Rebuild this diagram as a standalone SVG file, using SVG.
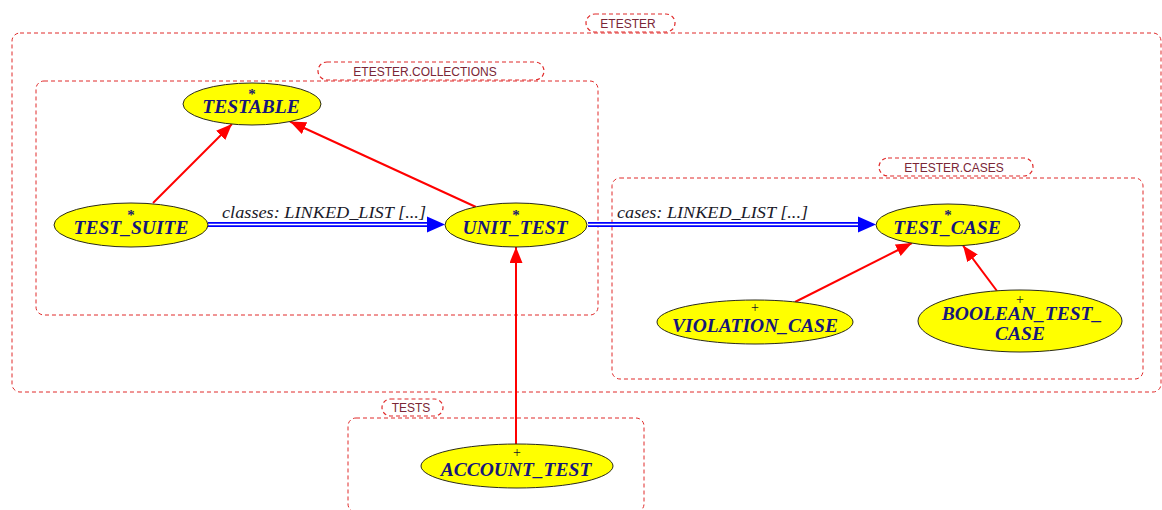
<svg xmlns="http://www.w3.org/2000/svg" width="1162" height="510" viewBox="0 0 1162 510">
  <style>
    .cluster { fill: none; stroke: #e02a2a; stroke-width: 1; stroke-dasharray: 4 3; }
    .clabel-box { fill: #ffffff; stroke: #e02a2a; stroke-width: 1.2; stroke-dasharray: 4 3; }
    .clabel { font-family: "Liberation Sans", Arial, sans-serif; font-size: 12px; fill: #7a2636; text-anchor: middle; }
    .node ellipse { fill: #ffff00; stroke: #2a2a1a; stroke-width: 1; }
    .name { font-family: "Liberation Serif", "Times New Roman", serif; font-size: 19.5px; font-weight: bold; font-style: italic; fill: #16167a; text-anchor: middle; }
    .star { font-family: "Liberation Serif", "Times New Roman", serif; font-size: 15px; font-weight: bold; fill: #1a1a70; text-anchor: middle; }
    .plus { font-family: "Liberation Serif", "Times New Roman", serif; font-size: 14px; fill: #10102a; text-anchor: middle; }
    .inherit { fill: none; stroke: #ff0000; stroke-width: 2; marker-end: url(#redHead); }
    .client-outer { fill: none; stroke: #0000ff; stroke-width: 5; }
    .client-inner { fill: none; stroke: #ffffff; stroke-width: 1.6; }
    .elabel { font-family: "Liberation Serif", "Times New Roman", serif; font-size: 16px; font-style: italic; fill: #1a1a2a; }
  </style>
  <defs>
    <marker id="redHead" markerUnits="userSpaceOnUse" markerWidth="17" markerHeight="13" refX="16" refY="6.5" orient="auto">
      <path d="M0,0 L16,6.5 L0,13 z" fill="#ff0000"/>
    </marker>
  </defs>

  <!-- clusters -->
  <g id="cluster-etester">
    <rect class="cluster" x="12" y="33" width="1149" height="359" rx="8"/>
    <rect class="clabel-box" x="586" y="14" width="89" height="18" rx="9"/>
    <text class="clabel" x="628" y="28">ETESTER</text>
  </g>
  <g id="cluster-collections">
    <rect class="cluster" x="36" y="81" width="562" height="234" rx="8"/>
    <rect class="clabel-box" x="318" y="62" width="226" height="18" rx="9"/>
    <text class="clabel" x="425" y="76">ETESTER.COLLECTIONS</text>
  </g>
  <g id="cluster-cases">
    <rect class="cluster" x="612" y="178" width="531" height="201" rx="8"/>
    <rect class="clabel-box" x="879" y="158" width="154" height="18" rx="9"/>
    <text class="clabel" x="954" y="172">ETESTER.CASES</text>
  </g>
  <g id="cluster-tests">
    <rect class="cluster" x="348" y="418" width="296" height="94" rx="8"/>
    <rect class="clabel-box" x="382" y="399" width="61" height="17" rx="8.5"/>
    <text class="clabel" x="411" y="412">TESTS</text>
  </g>

  <!-- connectors -->
  <g id="edges">
    <!-- inheritance -->
    <line class="inherit" x1="153" y1="203" x2="232" y2="124"/>
    <line class="inherit" x1="476" y1="207" x2="290" y2="121.5"/>
    <line class="inherit" x1="516" y1="444" x2="516" y2="247"/>
    <line class="inherit" x1="795" y1="302" x2="912" y2="243"/>
    <line class="inherit" x1="997" y1="291" x2="963" y2="245.5"/>
    <!-- client links -->
    <line class="client-outer" x1="208" y1="224.5" x2="428" y2="224.5"/>
    <line class="client-inner" x1="208" y1="224.5" x2="428" y2="224.5"/>
    <path d="M427,216.5 L445,224.5 L427,232.5 z" fill="#0000ff"/>
    <text class="elabel" x="222" y="218" textLength="204" lengthAdjust="spacingAndGlyphs">classes: LINKED_LIST [...]</text>
    <line class="client-outer" x1="588" y1="224.5" x2="859" y2="224.5"/>
    <line class="client-inner" x1="588" y1="224.5" x2="859" y2="224.5"/>
    <path d="M858,216.5 L876,224.5 L858,232.5 z" fill="#0000ff"/>
    <text class="elabel" x="617" y="218" textLength="191" lengthAdjust="spacingAndGlyphs">cases: LINKED_LIST [...]</text>
  </g>

  <!-- classes -->
  <g id="TESTABLE" class="node">
    <ellipse cx="252" cy="104" rx="69" ry="21"/>
    <text class="star" x="252" y="99">*</text>
    <text class="name" x="251" y="113">TESTABLE</text>
  </g>
  <g id="TEST_SUITE" class="node">
    <ellipse cx="131" cy="225" rx="77" ry="22"/>
    <text class="star" x="131" y="220">*</text>
    <text class="name" x="131" y="234">TEST_SUITE</text>
  </g>
  <g id="UNIT_TEST" class="node">
    <ellipse cx="516" cy="225" rx="71" ry="22"/>
    <text class="star" x="516" y="220">*</text>
    <text class="name" x="515" y="234">UNIT_TEST</text>
  </g>
  <g id="TEST_CASE" class="node">
    <ellipse cx="948" cy="225" rx="72" ry="21"/>
    <text class="star" x="948" y="220">*</text>
    <text class="name" x="947" y="234">TEST_CASE</text>
  </g>
  <g id="VIOLATION_CASE" class="node">
    <ellipse cx="755" cy="322" rx="98" ry="22"/>
    <text class="plus" x="755" y="312">+</text>
    <text class="name" x="755" y="332">VIOLATION_CASE</text>
  </g>
  <g id="BOOLEAN_TEST_CASE" class="node">
    <ellipse cx="1020" cy="321" rx="102" ry="31"/>
    <text class="plus" x="1020" y="304">+</text>
    <text class="name" x="1022" y="320">BOOLEAN_TEST_</text>
    <text class="name" x="1020" y="340">CASE</text>
  </g>
  <g id="ACCOUNT_TEST" class="node">
    <ellipse cx="517" cy="466" rx="96" ry="22"/>
    <text class="plus" x="517" y="457">+</text>
    <text class="name" x="516" y="476">ACCOUNT_TEST</text>
  </g>
</svg>
